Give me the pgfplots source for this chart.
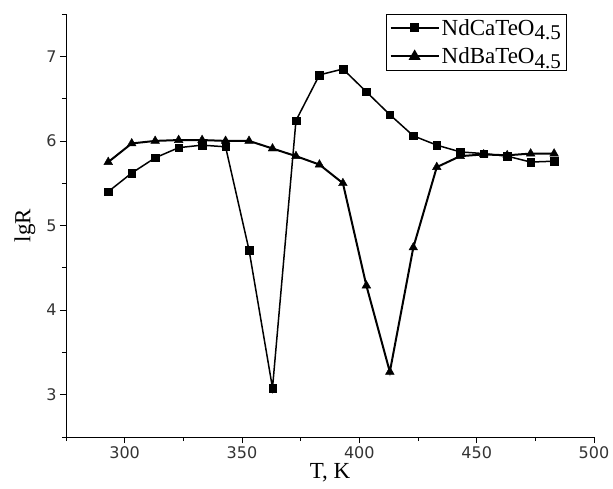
\documentclass[border=0pt]{standalone}
\usepackage{fontspec}
\setmainfont{Liberation Serif}
\newfontfamily\tickfont{DejaVu Sans}
\usepackage{pgfplots}
\pgfplotsset{compat=1.18}

\pgfplotstableread{
T    Ca    Ba
293  5.40  5.75
303  5.62  5.97
313  5.80  6.00
323  5.92  6.01
333  5.95  6.01
343  5.93  6.00
353  4.71  6.00
363  3.08  5.91
373  6.24  5.82
383  6.78  5.72
393  6.85  5.50
403  6.58  4.29
413  6.31  3.27
423  6.06  4.74
433  5.95  5.69
443  5.87  5.82
453  5.85  5.84
463  5.82  5.83
473  5.75  5.85
483  5.76  5.85
}\datatable

\begin{document}
\begin{tikzpicture}
\begin{axis}[
    scale only axis,
    width=528pt, height=423pt,
    xmin=275, xmax=500, ymin=2.5, ymax=7.5,
    axis x line*=bottom, axis y line*=left,
    axis line style={line width=0.8pt},
    xtick={300,350,400,450,500},
    ytick={3,4,5,6,7},
    minor xtick={275,325,375,425,475},
    minor ytick={2.5,3.5,4.5,5.5,6.5,7.5},
    tick align=outside,
    major tick length=6pt, minor tick length=4pt,
    tick style={black, line width=0.8pt},
    ticklabel style={font=\fontsize{16}{16}\tickfont, text=black!80},
    /pgf/number format/assume math mode=true,
    /pgf/number format/1000 sep={},
    xlabel={T, K}, ylabel={lgR},
    label style={font=\fontsize{23}{23}\selectfont},
    xlabel style={yshift=2pt},
    ylabel style={yshift=4pt},
    legend style={at={(0.947,1)}, anchor=north east, draw=black,
        font=\fontsize{23}{23}\selectfont, row sep=7pt, inner sep=3pt},
    legend cell align=left,
    legend image code/.code={
        \draw[mark repeat=2, mark phase=2] plot coordinates {(0pt,0pt) (24pt,0pt) (48pt,0pt)};
    },
]
% lines first
\addplot[black, line width=1.5pt, no markers, forget plot] table[x=T, y=Ca] {\datatable};
\addplot[black, line width=2pt, no markers, forget plot] table[x=T, y=Ba] {\datatable};
% then the markers
\addplot[black, only marks, mark=square*, mark size=3.8pt, mark options={solid, fill=black}, forget plot]
    table[x=T, y=Ca] {\datatable};
\addplot[black, only marks, mark=triangle*, mark size=5pt, mark options={solid, fill=black}, forget plot]
    table[x=T, y=Ba] {\datatable};
\addlegendimage{black, line width=1.5pt, mark=square*, mark size=3.8pt, mark options={solid, fill=black}}
\addlegendentry{NdCaTeO\raisebox{-0.45ex}{\fontsize{21}{21}\selectfont 4.5}}
\addlegendimage{black, line width=2pt, mark=triangle*, mark size=5pt, mark options={solid, fill=black}}
\addlegendentry{NdBaTeO\raisebox{-0.45ex}{\fontsize{21}{21}\selectfont 4.5}}
\end{axis}
\useasboundingbox (-66pt,-51pt) rectangle (547pt,437pt);
\end{tikzpicture}
\end{document}
